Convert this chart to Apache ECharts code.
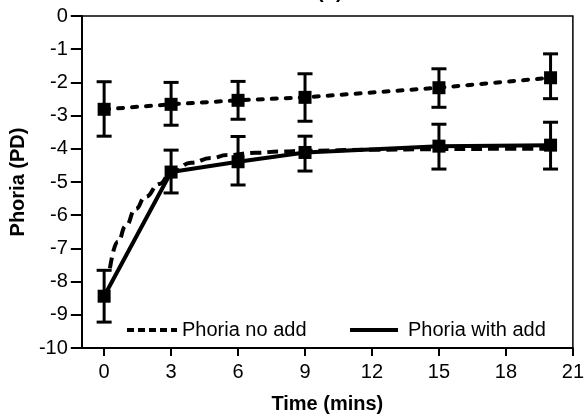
<!DOCTYPE html>
<html>
<head>
<meta charset="utf-8">
<script src="https://cdn.jsdelivr.net/npm/echarts@6/dist/echarts.min.js"></script>
<style>html,body{margin:0;padding:0;background:#fff}#c{width:587px;height:419px}</style>
</head>
<body>
<div id="c"></div>
<script>
// ---- data ----
const xTicks = [0, 3, 6, 9, 12, 15, 18, 21];
const timePoints = [0, 3, 6, 9, 15, 20];

const noAddMean = [-2.81, -2.66, -2.54, -2.45, -2.16, -1.86];
const noAddHigh = [-1.98, -2.00, -1.97, -1.74, -1.59, -1.14];
const noAddLow  = [-3.62, -3.29, -3.11, -3.17, -2.75, -2.49];

const withAddMean = [-8.44, -4.70, -4.39, -4.11, -3.92, -3.89];
const withAddHigh = [-7.66, -4.04, -3.63, -3.62, -3.26, -3.20];
const withAddLow  = [-9.22, -5.33, -5.09, -4.67, -4.61, -4.61];

const fitTime  = [0.26, 0.62, 0.97, 1.41, 1.85, 2.47, 3, 3.9, 4.8, 5.5, 6.8, 7.9, 9, 12, 15, 18, 20];
const fitValue = [-7.60, -6.80, -6.32, -5.81, -5.45, -5.06, -4.72, -4.42, -4.28, -4.19, -4.12, -4.08, -4.06, -4.03, -4.01, -4.00, -4.00];

const legendNames = ['Phoria no add', 'Phoria with add'];
const xName = 'Time (mins)';
const yName = 'Phoria (PD)';
const titleText = '(b)';

// ---- build ----
const FONT = 'Liberation Sans, Arial, sans-serif';
const pairs = (xs, ys) => xs.map((x, i) => [x, ys[i]]);
const errData = (xs, lo, hi) => xs.map((x, i) => [x, lo[i], hi[i]]);

function errorBar(params, api) {
  const x = api.value(0);
  const pLo = api.coord([x, api.value(1)]);
  const pHi = api.coord([x, api.value(2)]);
  const hw = 7.5;
  const st = { stroke: '#000', lineWidth: 3 };
  return {
    type: 'group',
    children: [
      { type: 'line', shape: { x1: pHi[0], y1: pHi[1], x2: pLo[0], y2: pLo[1] }, style: st },
      { type: 'line', shape: { x1: pHi[0] - hw, y1: pHi[1], x2: pHi[0] + hw, y2: pHi[1] }, style: st },
      { type: 'line', shape: { x1: pLo[0] - hw, y1: pLo[1], x2: pLo[0] + hw, y2: pLo[1] }, style: st }
    ]
  };
}

const chart = echarts.init(document.getElementById('c'), null, { renderer: 'canvas' });
chart.setOption({
  animation: false,
  backgroundColor: '#fff',
  textStyle: { fontFamily: FONT, color: '#000' },
  title: {
    text: titleText, left: 312, top: -23,
    textStyle: { fontFamily: FONT, fontSize: 20, fontWeight: 'bold', color: '#000' }
  },
  grid: {
    left: 79, right: 12, top: 16, bottom: 69,
    show: true, borderColor: '#000', borderWidth: 1.5, backgroundColor: 'transparent'
  },
  legend: [
    {
      data: [legendNames[0]], left: 120, top: 315, itemWidth: 50, itemHeight: 14, itemGap: 0,
      itemStyle: { opacity: 0 },
      lineStyle: { color: '#000', width: 4, type: [7, 4] },
      textStyle: { fontFamily: FONT, fontSize: 20, color: '#000', padding: [0, 0, 0, 0] }
    },
    {
      data: [legendNames[1]], left: 343, top: 315, itemWidth: 48, itemHeight: 14, itemGap: 0,
      itemStyle: { opacity: 0 },
      lineStyle: { color: '#000', width: 4, type: 'solid' },
      textStyle: { fontFamily: FONT, fontSize: 20, color: '#000', padding: [0, 0, 0, 5] }
    }
  ],
  xAxis: {
    type: 'value', min: -1, max: 21,
    name: xName, nameLocation: 'middle', nameGap: 46,
    nameTextStyle: { fontFamily: FONT, fontSize: 20, fontWeight: 'bold', color: '#000' },
    axisLine: { show: true, onZero: false, lineStyle: { color: '#000', width: 2 } },
    axisTick: { show: true, customValues: xTicks, length: 8, lineStyle: { color: '#000', width: 2 } },
    axisLabel: { customValues: xTicks, margin: 14, fontFamily: FONT, fontSize: 20, color: '#000' },
    splitLine: { show: false }
  },
  yAxis: {
    type: 'value', min: -10, max: 0, interval: 1,
    name: yName, nameLocation: 'middle', nameGap: 49, nameRotate: 90,
    nameTextStyle: { fontFamily: FONT, fontSize: 20, fontWeight: 'bold', color: '#000' },
    axisLine: { show: true, onZero: false, lineStyle: { color: '#000', width: 2 } },
    axisTick: { show: true, length: 11, lineStyle: { color: '#000', width: 2 } },
    axisLabel: { margin: 14, fontFamily: FONT, fontSize: 20, color: '#000' },
    splitLine: { show: false }
  },
  series: [
    // legend-only entries
    { name: legendNames[0], type: 'line', data: [], symbol: 'none', color: '#000',
      lineStyle: { color: '#000', width: 4, type: [7, 4] } },
    { name: legendNames[1], type: 'line', data: [], symbol: 'none', color: '#000',
      lineStyle: { color: '#000', width: 4, type: 'solid' } },
    // no add: dotted line through means
    { name: 'noAddLine', type: 'line', data: pairs(timePoints, noAddMean), symbol: 'none', z: 2,
      lineStyle: { color: '#000', width: 4, type: [5, 9], cap: 'round' } },
    // with add: solid line through means
    { name: 'withAddLine', type: 'line', data: pairs(timePoints, withAddMean), symbol: 'none', z: 2,
      lineStyle: { color: '#000', width: 4, type: 'solid' } },
    // fitted dashed curve
    { name: 'fitLine', type: 'line', data: pairs(fitTime, fitValue), symbol: 'none',
      smooth: true, smoothMonotone: 'x', z: 2,
      lineStyle: { color: '#000', width: 4, type: [11, 6] } },
    // error bars
    { name: 'noAddErr', type: 'custom', data: errData(timePoints, noAddLow, noAddHigh), renderItem: errorBar, z: 3 },
    { name: 'withAddErr', type: 'custom', data: errData(timePoints, withAddLow, withAddHigh), renderItem: errorBar, z: 3 },
    // markers
    { name: 'noAddPts', type: 'scatter', data: pairs(timePoints, noAddMean), symbol: 'rect', symbolSize: 13,
      itemStyle: { color: '#000', opacity: 1 }, z: 4 },
    { name: 'withAddPts', type: 'scatter', data: pairs(timePoints, withAddMean), symbol: 'rect', symbolSize: 13,
      itemStyle: { color: '#000', opacity: 1 }, z: 4 }
  ]
});
</script>
</body>
</html>
